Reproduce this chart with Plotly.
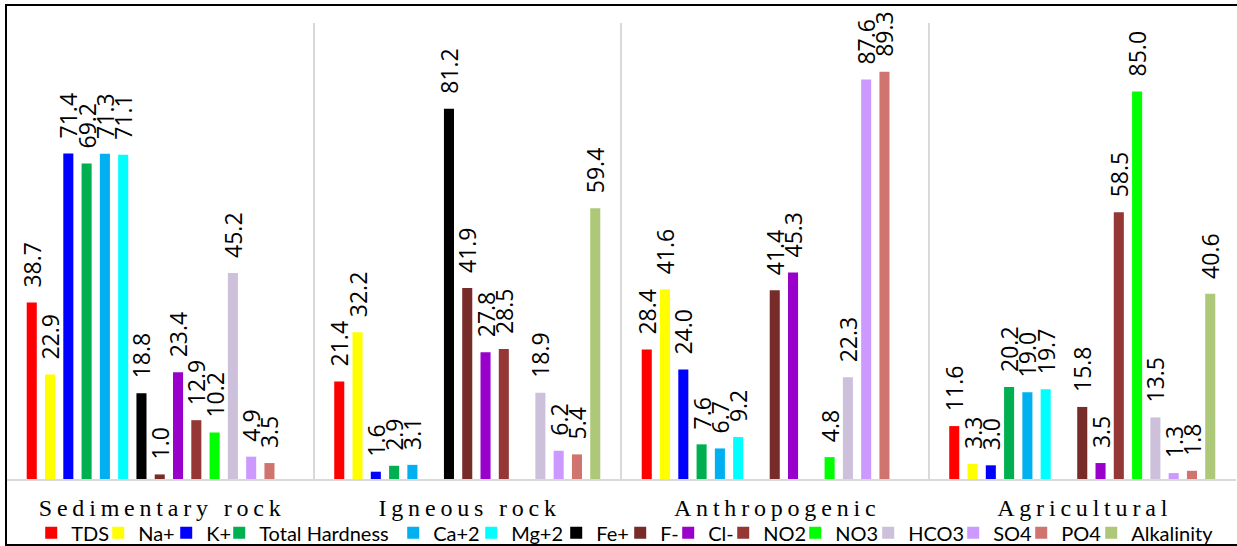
import plotly.graph_objects as go

# Source categories along the x axis
sources = ["Sedimentary rock", "Igneous rock", "Anthropogenic", "Agricultural"]

# Parameter contributions per source (None = not reported)
tds = [38.7, 21.4, 28.4, 11.6]
na = [22.9, 32.2, 41.6, 3.3]
k = [71.4, 1.6, 24.0, 3.0]
total_hardness = [69.2, 2.9, 7.6, 20.2]
ca = [71.3, 3.1, 6.7, 19.0]
mg = [71.1, None, 9.2, 19.7]
fe = [18.8, 81.2, None, None]
f = [1.0, 41.9, 41.4, 15.8]
cl = [23.4, 27.8, 45.3, 3.5]
no2 = [12.9, 28.5, None, 58.5]
no3 = [10.2, None, 4.8, 85.0]
hco3 = [45.2, 18.9, 22.3, 13.5]
so4 = [4.9, 6.2, 87.6, 1.3]
po4 = [3.5, 5.4, 89.3, 1.8]
alkalinity = [None, 59.4, None, 40.6]

series_names = ["TDS", "Na+", "K+", "Total Hardness", "Ca+2", "Mg+2", "Fe+",
                "F-", "Cl-", "NO2", "NO3", "HCO3", "SO4", "PO4", "Alkalinity"]
series_values = [tds, na, k, total_hardness, ca, mg, fe, f, cl, no2, no3,
                 hco3, so4, po4, alkalinity]

colors = ["#FF0000", "#FFFF00", "#0000FF", "#00B050", "#00B0F0", "#00FFFF",
          "#000000", "#772C2A", "#9900CC", "#953735", "#00FF00", "#CCC0DA",
          "#CC99FF", "#D07470", "#ADC878"]

# legend entry widths (px) so the single row stays compact
legend_widths = [22, 23, 8, 129, 33, 40, 19, 3, 10, 27, 28, 40, 23, 25, 90]

# spaced-out category labels
tick_text = ["\u2009".join(s) for s in sources]

fig = go.Figure()
for name, vals, col, lw in zip(series_names, series_values, colors, legend_widths):
    fig.add_trace(go.Bar(
        name=name,
        x=sources,
        y=vals,
        marker=dict(color=col, line=dict(width=0)),
        # leading spaces lift the rotated value label clear of the bar top
        texttemplate="\u00a0\u00a0%{y:.1f}",
        textposition="outside",
        textangle=-90,
        textfont=dict(family="Open Sans", size=23, color="#000000"),
        constraintext="none",
        cliponaxis=False,
        legendwidth=lw,
        hoverinfo="x+y+name",
    ))

fig.update_layout(
    width=1237,
    height=546,
    margin=dict(l=6, r=1, t=23, b=67, autoexpand=False),
    paper_bgcolor="white",
    plot_bgcolor="white",
    barmode="group",
    bargap=0.108,
    bargroupgap=0.45,
    showlegend=True,
    legend=dict(
        orientation="h",
        x=0.0205,
        xanchor="left",
        y=-0.118,
        yanchor="middle",
        font=dict(family="Lato", size=20, color="#000000"),
        bgcolor="rgba(0,0,0,0)",
        itemclick=False,
        itemdoubleclick=False,
    ),
    xaxis=dict(
        type="category",
        tickmode="array",
        tickvals=sources,
        ticktext=tick_text,
        tickson="boundaries",
        ticks="",
        showgrid=True,
        gridcolor="#D9D9D9",
        gridwidth=2,
        showline=True,
        linecolor="#D9D9D9",
        linewidth=2,
        tickfont=dict(family="Liberation Serif", size=24, color="#000000"),
        ticklabelstandoff=6,
        automargin=False,
        zeroline=False,
    ),
    yaxis=dict(
        range=[0, 100],
        showgrid=False,
        showticklabels=False,
        ticks="",
        showline=False,
        zeroline=False,
        automargin=False,
    ),
    shapes=[dict(
        type="rect", xref="paper", yref="paper",
        x0=0, x1=1.01, y0=-0.1447, y1=1.0395,
        line=dict(color="#000000", width=2),
        layer="above",
    )],
)

fig.write_html("out.html")
